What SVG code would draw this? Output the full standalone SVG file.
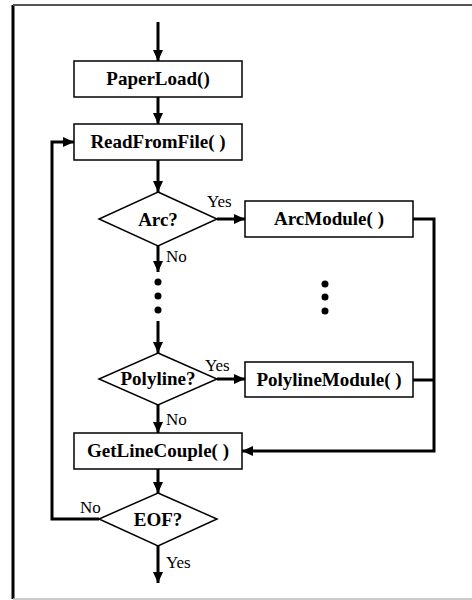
<svg xmlns="http://www.w3.org/2000/svg" width="472" height="600" viewBox="0 0 472 600">
<style>
.box{fill:#fff;stroke:#000;stroke-width:1.5}
.dia{fill:#fff;stroke:#000;stroke-width:1.5}
.con{fill:none;stroke:#000;stroke-width:3}
.t{font-family:"Liberation Serif","Times New Roman",serif;font-weight:bold;font-size:19px;text-anchor:middle;fill:#000}
.lbl{font-family:"Liberation Serif","Times New Roman",serif;font-size:17px;fill:#000}
</style>
<defs>
<marker id="ah" markerUnits="userSpaceOnUse" markerWidth="12" markerHeight="10" refX="11" refY="5" orient="auto">
<path d="M0,0 L11,5 L0,10 Z" fill="#000"/>
</marker>
</defs>
<rect x="0" y="0" width="472" height="600" fill="#fff"/>
<g id="frame">
<line x1="13" y1="5" x2="13" y2="599" stroke="#000" stroke-width="3"/>
<line x1="13" y1="5" x2="472" y2="5" stroke="#555" stroke-width="2"/>
<line x1="13" y1="599" x2="472" y2="599" stroke="#bbb" stroke-width="1.5"/>
</g>
<g id="connectors">
<line class="con" x1="158" y1="22" x2="158" y2="61" marker-end="url(#ah)"/>
<line class="con" x1="158" y1="97" x2="158" y2="124" marker-end="url(#ah)"/>
<line class="con" x1="158" y1="160" x2="158" y2="192" marker-end="url(#ah)"/>
<line class="con" x1="217" y1="219" x2="245" y2="219" marker-end="url(#ah)"/>
<line class="con" x1="158" y1="246" x2="158" y2="272" marker-end="url(#ah)"/>
<line class="con" x1="158" y1="321" x2="158" y2="353" marker-end="url(#ah)"/>
<line class="con" x1="217" y1="379" x2="245" y2="379" marker-end="url(#ah)"/>
<line class="con" x1="158" y1="405" x2="158" y2="433" marker-end="url(#ah)"/>
<line class="con" x1="158" y1="469" x2="158" y2="493" marker-end="url(#ah)"/>
<line class="con" x1="158" y1="546" x2="158" y2="583" marker-end="url(#ah)"/>
<polyline class="con" points="413,219 434,219 434,451 242,451" marker-end="url(#ah)"/>
<line class="con" x1="413" y1="380" x2="434" y2="380"/>
<polyline class="con" points="99,519 52,519 52,142 74,142" marker-end="url(#ah)"/>
<text class="lbl" x="207" y="207">Yes</text>
<text class="lbl" x="166" y="262">No</text>
<text class="lbl" x="205" y="371">Yes</text>
<text class="lbl" x="166" y="425">No</text>
<text class="lbl" x="80" y="513">No</text>
<text class="lbl" x="166" y="568">Yes</text>
</g>
<g id="paperload">
<rect class="box" x="74" y="61" width="168" height="36"/>
<text class="t" x="158" y="85">PaperLoad()</text>
</g>
<g id="readfromfile">
<rect class="box" x="74" y="124" width="168" height="36"/>
<text class="t" x="158" y="148">ReadFromFile( )</text>
</g>
<g id="arc">
<polygon class="dia" points="158,192 217,219 158,246 99,219"/>
<text class="t" x="158" y="226">Arc?</text>
</g>
<g id="arcmodule">
<rect class="box" x="245" y="201" width="168" height="36"/>
<text class="t" x="329" y="225">ArcModule( )</text>
</g>
<g id="dots-left">
<circle cx="158" cy="282" r="3.5"/>
<circle cx="158" cy="296" r="3.5"/>
<circle cx="158" cy="310" r="3.5"/>
</g>
<g id="dots-right">
<circle cx="325" cy="284" r="3.5"/>
<circle cx="325" cy="297" r="3.5"/>
<circle cx="325" cy="311" r="3.5"/>
</g>
<g id="polyline">
<polygon class="dia" points="158,353 217,379 158,405 99,379"/>
<text class="t" x="158" y="385">Polyline?</text>
</g>
<g id="polylinemodule">
<rect class="box" x="245" y="362" width="168" height="35"/>
<text class="t" x="329" y="386">PolylineModule( )</text>
</g>
<g id="getlinecouple">
<rect class="box" x="74" y="433" width="168" height="36"/>
<text class="t" x="158" y="457">GetLineCouple( )</text>
</g>
<g id="eof">
<polygon class="dia" points="158,493 217,519 158,546 99,519"/>
<text class="t" x="158" y="526">EOF?</text>
</g>
</svg>
